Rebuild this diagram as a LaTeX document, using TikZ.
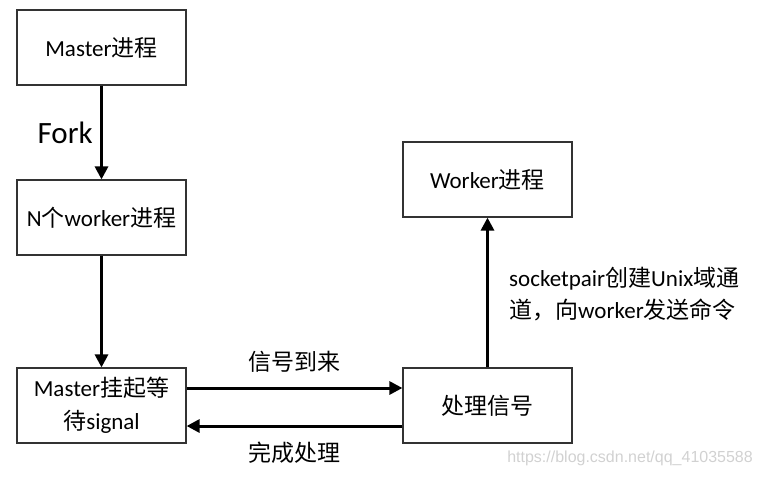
\documentclass[tikz,border=0pt]{standalone}
\usepackage{fontspec}
\usepackage{tikz}
\usetikzlibrary{arrows.meta}
\setmainfont{Carlito}
\newfontfamily\cjk{Noto Sans CJK SC}
\newfontfamily\webfont{Liberation Sans}

\begin{document}
\begin{tikzpicture}[x=1pt, y=-1pt,
    box/.style={rectangle, draw=black!80, line width=1.2pt, fill=white, inner sep=2pt,
      minimum width=169pt, minimum height=75pt, align=center,
      font=\fontsize{23}{33}\selectfont},
    flow/.style={line width=3pt, -{Triangle[length=13pt, width=13pt]}},
    lbl/.style={font=\fontsize{23}{32}\selectfont, inner sep=0pt}]
  \useasboundingbox (0,0) rectangle (762,477);

  \node[box] (master) at (101.5, 47.5) {Master{\cjk 进程}};
  \node[box] (nworker) at (101.5, 217.5) {N{\cjk 个}worker{\cjk 进程}};
  \node[box] (wait) at (101.5, 405.5) {Master{\cjk 挂起等}\\{\cjk 待}signal};
  \node[box] (handle) at (487.5, 405.5) {{\cjk 处理信号}};
  \node[box] (worker) at (487.5, 179.5) {Worker{\cjk 进程}};

  \draw[flow] (master) -- node[left=4pt, font=\fontsize{31}{34}\selectfont] {Fork} (nworker);
  \draw[flow] (nworker) -- (wait);
  \draw[flow] ([yshift=17.5pt]wait.east) -- node[lbl, above=14pt] {\cjk 信号到来} ([yshift=17.5pt]handle.west);
  \draw[flow] ([yshift=-20.5pt]handle.west) -- node[lbl, below=14pt] {\cjk 完成处理} ([yshift=-20.5pt]wait.east);
  \draw[flow] (handle) -- (worker);

  \node[lbl, anchor=west, align=left] (cmd) at (509, 294)
    {socketpair{\cjk 创建}Unix{\cjk 域通}\\{\cjk 道，向}worker{\cjk 发送命令}};

  \node[anchor=east, text=black!18, font=\webfont\fontsize{16}{18}\selectfont, inner sep=0pt] (mark) at (753, 458) {https://blog.csdn.net/qq\_41035588};
\end{tikzpicture}
\end{document}
